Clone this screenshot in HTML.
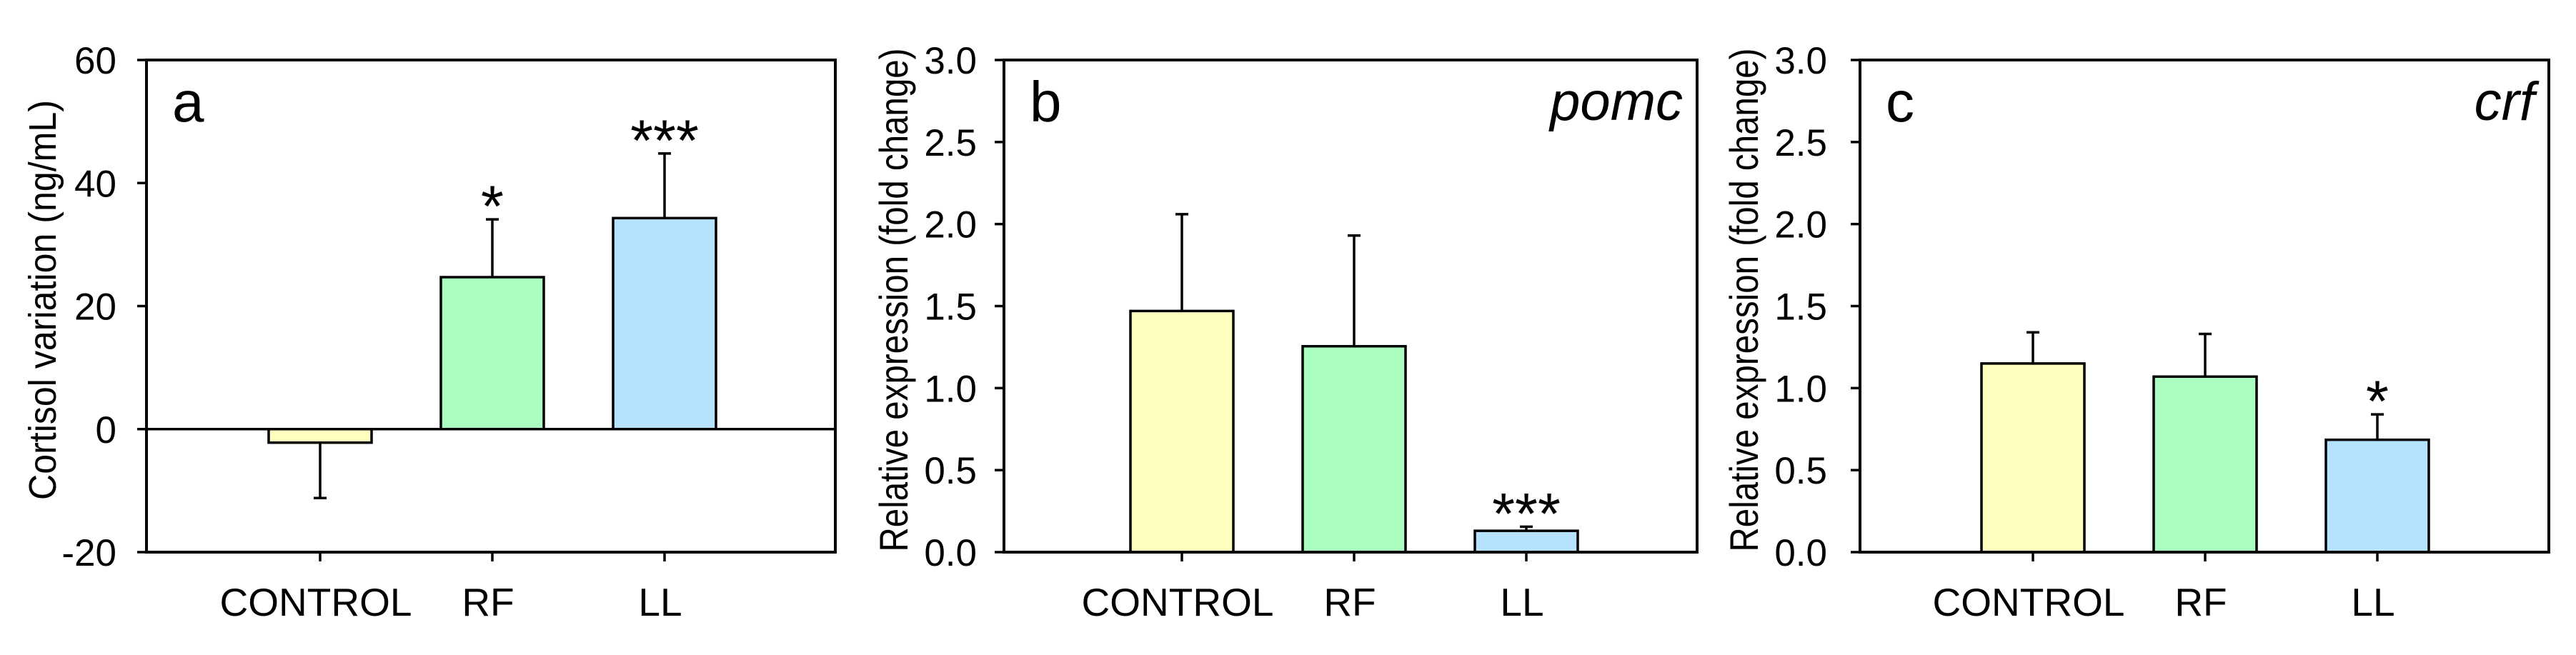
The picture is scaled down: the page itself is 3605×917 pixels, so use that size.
<!DOCTYPE html>
<html><head><meta charset="utf-8"><style>
html,body{margin:0;padding:0;background:#fff;}
svg{display:block;font-family:"Liberation Sans",Arial,sans-serif;}
</style></head><body>
<svg id="fig" width="3605" height="917" viewBox="0 0 3605 917" xmlns="http://www.w3.org/2000/svg"></svg>
<script>
const categories = ["CONTROL", "RF", "LL"];
const cortisolValues = [-2.2, 24.7, 34.3];
const cortisolErrors = [-11.2, 34.1, 44.8];
const cortisolStars = ["", "*", "***"];
const cortisolTicks = [-20, 0, 20, 40, 60];
const pomcValues = [1.47, 1.255, 0.13];
const pomcErrors = [2.06, 1.93, 0.155];
const pomcStars = ["", "", "***"];
const crfValues = [1.15, 1.07, 0.685];
const crfErrors = [1.34, 1.33, 0.84];
const crfStars = ["", "", "*"];
const exprTicks = [0.0, 0.5, 1.0, 1.5, 2.0, 2.5, 3.0];
const barColors = ["#ffffc0", "#aaffc0", "#b5e2ff"];

const NS = "http://www.w3.org/2000/svg";
const svg = document.getElementById("fig");
function mk(tag, attrs, parent) {
  const e = document.createElementNS(NS, tag);
  for (const k in attrs) e.setAttribute(k, attrs[k]);
  (parent || svg).appendChild(e);
  return e;
}

function panel(p) {
  const g = mk("g", {});
  
  
  const L = p.left, R = p.right, T = 84, B = 773;
  const y = v => B - (v - p.min) / (p.max - p.min) * (B - T);
  const x = i => L + p.off + i * 241;
  const bw = 144;
  p.values.forEach((v, i) => {
    const cx = x(i);
    const eb = mk("line", {x1: cx, x2: cx, y1: y(v), y2: y(p.errors[i]), stroke: "#000", "stroke-width": 3.5}, g);
    
    
    const cap = mk("line", {x1: cx - 9, x2: cx + 9, y1: y(p.errors[i]), y2: y(p.errors[i]), stroke: "#000", "stroke-width": 3.5}, g);
    
    
    const top = Math.min(y(v), y(0)), h = Math.abs(y(v) - y(0));
    const r = mk("rect", {x: cx - bw / 2, y: top, width: bw, height: h, fill: barColors[i], stroke: "#000", "stroke-width": 3.5}, g);
    
    
    if (p.stars[i]) {
      const s = mk("text", {x: cx, y: y(p.errors[i]) + 10, "text-anchor": "middle", "font-size": 82}, g);
      s.textContent = p.stars[i];
      
      
    }
    mk("line", {x1: cx, x2: cx, y1: B, y2: B + 13, stroke: "#000", "stroke-width": 3.5}, g);
    const t = mk("text", {x: cx - 6, y: 862, "text-anchor": "middle", "font-size": 55}, g);
    t.textContent = categories[i];
    
    
  });
  if (p.min < 0) {
    const z = mk("line", {x1: L, x2: R, y1: y(0), y2: y(0), stroke: "#000", "stroke-width": 3.5}, g);
    
    
  }
  const f = mk("rect", {x: L, y: T, width: R - L, height: B - T, fill: "none", stroke: "#000", "stroke-width": 4}, g);
  
  
  p.ticks.forEach(tv => {
    mk("line", {x1: L - 13, x2: L, y1: y(tv), y2: y(tv), stroke: "#000", "stroke-width": 3.5}, g);
    const t = mk("text", {x: p.tickRight, y: y(tv) + 19, "text-anchor": "end", "font-size": 53}, g);
    t.textContent = p.fmt(tv);
    
    
  });
  const yt = mk("text", {x: 0, y: 0, "text-anchor": "middle", "font-size": p.titleSize, textLength: p.titleLen, lengthAdjust: "spacingAndGlyphs",
    transform: "translate(" + p.titleX + ",420) rotate(-90)"}, g);
  yt.textContent = p.title;
  
  
  const pl = mk("text", {x: L + 36, y: 170, "font-size": 80}, g);
  pl.textContent = p.letter;
  
  
  if (p.gene) {
    const gn = mk("text", {x: R - 20, y: 168, "text-anchor": "end", "font-size": 76, "font-style": "italic"}, g);
    gn.textContent = p.gene;
    
    
  }
}

panel({name: "panel-a-cortisol", left: 205, right: 1169, off: 243, min: -20, max: 60, values: cortisolValues, errors: cortisolErrors, stars: cortisolStars,
  ticks: cortisolTicks, fmt: v => String(v), tickRight: 163, title: "Cortisol variation (ng/mL)", titleX: 78, titleSize: 54, titleLen: 560, letter: "a", gene: ""});
panel({name: "panel-b-pomc", left: 1405, right: 2375, off: 249, min: 0, max: 3, values: pomcValues, errors: pomcErrors, stars: pomcStars,
  ticks: exprTicks, fmt: v => v.toFixed(1), tickRight: 1367, title: "Relative expression (fold change)", titleX: 1270, titleSize: 56, titleLen: 705, letter: "b", gene: "pomc"});
panel({name: "panel-c-crf", left: 2603, right: 3567, off: 242, min: 0, max: 3, values: crfValues, errors: crfErrors, stars: crfStars,
  ticks: exprTicks, fmt: v => v.toFixed(1), tickRight: 2557, title: "Relative expression (fold change)", titleX: 2460, titleSize: 56, titleLen: 705, letter: "c", gene: "crf"})
</script>
</body></html>
